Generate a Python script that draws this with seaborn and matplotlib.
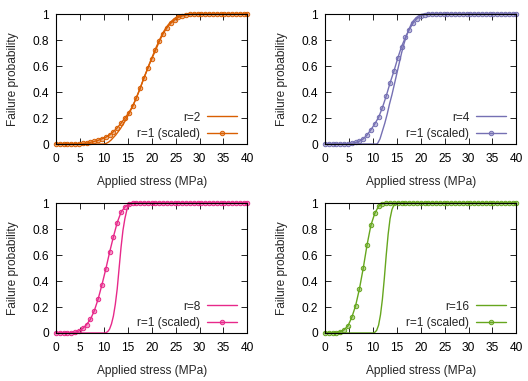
import matplotlib
matplotlib.use('Agg')
import matplotlib.pyplot as plt
import matplotlib.ticker as mticker
import matplotlib.colors as mcolors
import numpy as np
import seaborn as sns

# stress grid of the r=1 (scaled) curves, MPa
scaled_stress = np.linspace(0, 40, 51)

# r=1 (scaled) failure probability on that grid, one list per panel
scaled_r2 = [0, 0, 0, 0, 0.001, 0.002, 0.003, 0.005, 0.008, 0.013,
             0.02, 0.028, 0.04, 0.052, 0.07, 0.095, 0.125, 0.16, 0.2, 0.24,
             0.29, 0.355, 0.43, 0.51, 0.585, 0.655, 0.72, 0.79, 0.85, 0.895,
             0.93, 0.955, 0.975, 0.986, 0.993, 0.997, 0.999, 1, 1, 1,
             1, 1, 1, 1, 1, 1, 1, 1, 1, 1,
             1]
scaled_r4 = [0, 0, 0, 0, 0, 0.001, 0.003, 0.006, 0.012, 0.022,
             0.04, 0.07, 0.11, 0.155, 0.205, 0.28, 0.37, 0.47, 0.56, 0.66,
             0.75, 0.82, 0.88, 0.93, 0.965, 0.985, 0.995, 1, 1, 1,
             1, 1, 1, 1, 1, 1, 1, 1, 1, 1,
             1, 1, 1, 1, 1, 1, 1, 1, 1, 1,
             1]
scaled_r8 = [0, 0, 0, 0, 0.002, 0.006, 0.015, 0.035, 0.065, 0.105,
             0.17, 0.26, 0.37, 0.49, 0.62, 0.74, 0.85, 0.93, 0.97, 0.99,
             0.998, 1, 1, 1, 1, 1, 1, 1, 1, 1,
             1, 1, 1, 1, 1, 1, 1, 1, 1, 1,
             1, 1, 1, 1, 1, 1, 1, 1, 1, 1,
             1]
scaled_r16 = [0, 0, 0, 0.003, 0.01, 0.025, 0.055, 0.12, 0.21, 0.34,
              0.5, 0.68, 0.83, 0.92, 0.975, 0.995, 1, 1, 1, 1,
              1, 1, 1, 1, 1, 1, 1, 1, 1, 1,
              1, 1, 1, 1, 1, 1, 1, 1, 1, 1,
              1, 1, 1, 1, 1, 1, 1, 1, 1, 1,
              1]

# r = 2, 4, 8, 16 curves (stress, probability)
r2_stress = [0, 10, 10.5, 11, 11.5, 12, 12.5, 13, 13.5, 14, 14.5, 15, 15.5,
             16, 16.5, 17, 17.5, 18, 18.5, 19, 19.5, 20, 20.5, 21, 21.5, 22,
             22.5, 23, 23.5, 24, 24.5, 25, 25.5, 26, 26.5, 27, 27.5, 28, 40]
r2_prob = [0, 0, 0.005, 0.015, 0.03, 0.05, 0.07, 0.095, 0.12, 0.15, 0.18,
           0.215, 0.25, 0.29, 0.33, 0.375, 0.42, 0.47, 0.52, 0.565, 0.615,
           0.66, 0.705, 0.75, 0.79, 0.83, 0.865, 0.895, 0.92, 0.94, 0.958,
           0.972, 0.982, 0.989, 0.994, 0.997, 0.999, 1, 1]

r4_stress = [0, 10.8, 11, 11.5, 12, 12.5, 13, 13.5, 14, 14.5, 15, 15.5, 16,
             16.5, 17, 17.5, 18, 18.5, 19, 19.5, 20, 20.5, 40]
r4_prob = [0, 0, 0.005, 0.04, 0.1, 0.16, 0.23, 0.31, 0.38, 0.46, 0.54, 0.62,
           0.7, 0.77, 0.83, 0.88, 0.92, 0.95, 0.97, 0.985, 0.995, 1, 1]

r8_stress = [0, 10.3, 10.8, 11.2, 11.6, 12, 12.4, 12.8, 13.2, 13.6, 14, 14.4,
             14.8, 15.2, 15.6, 16, 40]
r8_prob = [0, 0, 0.01, 0.03, 0.07, 0.13, 0.22, 0.34, 0.5, 0.66, 0.79, 0.88,
           0.945, 0.98, 0.995, 1, 1]

r16_stress = [0, 10, 10.4, 10.8, 11.2, 11.6, 12, 12.4, 12.8, 13.2, 13.6, 14,
              14.4, 14.8, 15.2, 40]
r16_prob = [0, 0, 0.005, 0.02, 0.06, 0.14, 0.26, 0.42, 0.6, 0.76, 0.88, 0.95,
            0.985, 0.997, 1, 1]

labels = ['r=2', 'r=4', 'r=8', 'r=16']
colors = ['#d95f02', '#7570b3', '#e7298a', '#66a61e']

sns.set_theme(style='ticks')
plt.rcParams['font.family'] = ['Liberation Sans', 'DejaVu Sans']
fs = 8.6
plt.rcParams['font.size'] = fs

fig, axes = plt.subplots(2, 2, figsize=(5.28, 3.81), dpi=100)

panels = [
    (axes[0, 0], r2_stress, r2_prob, scaled_r2),
    (axes[0, 1], r4_stress, r4_prob, scaled_r4),
    (axes[1, 0], r8_stress, r8_prob, scaled_r8),
    (axes[1, 1], r16_stress, r16_prob, scaled_r16),
]
positions = [(0.106, 0.622), (0.6155, 0.622), (0.106, 0.126), (0.6155, 0.126)]

for (ax, xs, ys, sc), lab, col, pos in zip(panels, labels, colors, positions):
    ax.set_position([pos[0], pos[1], 0.3625, 0.341])
    light = mcolors.to_rgba(col, 0.45)
    sns.lineplot(x=xs, y=ys, ax=ax, color=col, lw=1, label=lab, clip_on=False)
    sns.lineplot(x=scaled_stress, y=sc, ax=ax, color=col, lw=1,
                 label='r=1 (scaled)', marker='o', markersize=3.2,
                 markerfacecolor=light, markeredgecolor=col,
                 markeredgewidth=0.7, clip_on=False)
    ax.set_xlim(0, 40)
    ax.set_ylim(0, 1)
    ax.set_xticks(range(0, 41, 5))
    ax.set_yticks([0, 0.2, 0.4, 0.6, 0.8, 1])
    ax.yaxis.set_major_formatter(mticker.FormatStrFormatter('%g'))
    ax.set_xlabel('Applied stress (MPa)', fontsize=fs, labelpad=8)
    ax.set_ylabel('Failure probability', fontsize=fs, labelpad=10)
    ax.tick_params(direction='in', top=True, right=True, length=4,
                   width=0.6, labelsize=fs, colors='black')
    ax.tick_params(axis='x', pad=6.5)
    ax.tick_params(axis='y', pad=5)
    for sp in ax.spines.values():
        sp.set_visible(True)
        sp.set_linewidth(0.8)
        sp.set_color('black')
    ax.legend(loc='lower right', bbox_to_anchor=(0.96, 0.01), frameon=False,
              markerfirst=False, handlelength=2.5, fontsize=fs,
              borderaxespad=0.0, borderpad=0.2, labelspacing=0.4,
              handletextpad=0.6)

plt.savefig('out.png', dpi=100)
